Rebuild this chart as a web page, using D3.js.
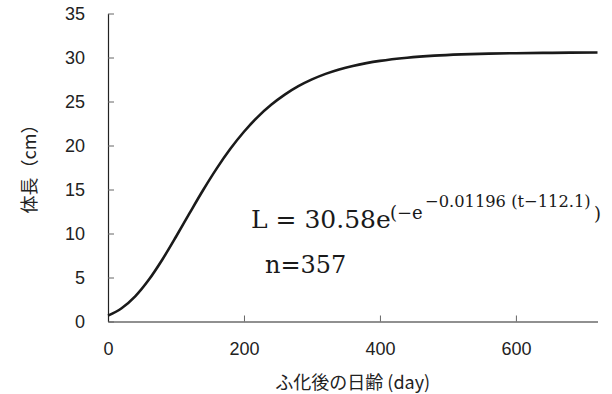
<!DOCTYPE html>
<html>
<head>
<meta charset="utf-8">
<script src="https://cdn.jsdelivr.net/npm/d3@7"></script>
<style>
  body { margin: 0; background: #fff; }
  .axis text { font-family: "Liberation Sans", Arial, sans-serif; font-size: 18px; fill: #222; }
  .title { font-family: "Noto Sans CJK JP", sans-serif; font-size: 18px; fill: #222; }
  .eq { font-family: "DejaVu Serif", serif; fill: #1a1a1a; }
</style>
</head>
<body>
<script>
// growth curve (day after hatching, body length cm)
var days    = [0, 20, 40, 60, 80, 100, 120, 140, 160, 180, 200, 220, 240, 260, 280, 300,
               320, 340, 360, 380, 400, 440, 480, 520, 560, 600, 640, 680, 720];
var lengths = [0.67, 1.51, 2.86, 4.74, 7.05, 9.63, 12.31, 14.94, 17.40, 19.62, 21.56, 23.23, 24.62, 25.78, 26.74, 27.51,
               28.14, 28.64, 29.04, 29.36, 29.62, 29.98, 30.21, 30.35, 30.44, 30.49, 30.52, 30.55, 30.56];
var xTicks = [0, 200, 400, 600];
var yTicks = [0, 5, 10, 15, 20, 25, 30, 35];

var margin = {top: 13.5, right: 14.5, bottom: 72.5, left: 108},
    width = 612 - margin.left - margin.right,
    height = 394 - margin.top - margin.bottom;

var x = d3.scaleLinear().domain([0, 720]).range([0, width]),
    y = d3.scaleLinear().domain([0, 35]).range([height, 0]);

var svg = d3.select("body").append("svg")
    .attr("width", 612)
    .attr("height", 394)
  .append("g")
    .attr("transform", "translate(" + margin.left + "," + margin.top + ")");

// axes, ticks point inward
svg.append("g")
    .attr("class", "axis")
    .attr("transform", "translate(0," + height + ")")
    .call(d3.axisBottom(x).tickValues(xTicks).tickSizeInner(-6).tickSizeOuter(0).tickPadding(21));

svg.append("g")
    .attr("class", "axis")
    .call(d3.axisLeft(y).tickValues(yTicks).tickSizeInner(-6).tickSizeOuter(0).tickPadding(23));

svg.selectAll(".axis .domain").attr("stroke", "#222").attr("stroke-width", 1.2);
svg.selectAll(".axis .tick line").attr("stroke", "#666");

// curve
var line = d3.line()
    .x(function(d, i) { return x(days[i]); })
    .y(function(d) { return y(d); })
    .curve(d3.curveMonotoneX);

svg.append("path")
    .datum(lengths)
    .attr("fill", "none")
    .attr("stroke", "#1a1a1a")
    .attr("stroke-width", 2.6)
    .attr("d", line);

// axis titles
svg.append("text")
    .attr("class", "title")
    .attr("x", width / 2)
    .attr("y", height + 67)
    .attr("text-anchor", "middle")
    .text("ふ化後の日齢 (day)");

svg.append("text")
    .attr("class", "title")
    .attr("transform", "translate(" + (30 - margin.left) + "," + (height / 2 - 3) + ")rotate(-90)")
    .attr("text-anchor", "middle")
    .attr("dy", "0.35em")
    .text("体長（cm）");

// fitted equation (page coordinates)
var pieces = [
  {t: "L = 30.58e", x: 251, y: 228, s: 25},
  {t: "(−e", x: 390, y: 219, s: 18},
  {t: "−0.01196 (t−112.1)", x: 425, y: 207, s: 16.3},
  {t: ")", x: 594, y: 220, s: 18},
  {t: "n=357", x: 265, y: 273, s: 24}
];
d3.select("svg").selectAll(".eq")
    .data(pieces)
  .enter().append("text")
    .attr("class", "eq")
    .attr("x", function(d) { return d.x; })
    .attr("y", function(d) { return d.y; })
    .style("font-size", function(d) { return d.s + "px"; })
    .text(function(d) { return d.t; });
</script>
</body>
</html>
